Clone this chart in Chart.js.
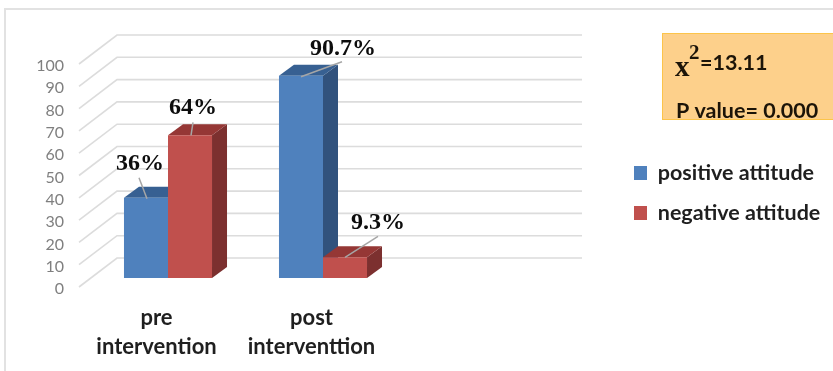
<!DOCTYPE html>
<html>
<head>
<meta charset="utf-8">
<title>Attitude before and after intervention</title>
<script src="https://cdn.jsdelivr.net/npm/chart.js@4/dist/chart.umd.min.js"></script>
<style>
  html, body { margin: 0; padding: 0; background: #fff; }
  canvas { display: block; }
</style>
</head>
<body>
<canvas id="attitudeChart" width="833" height="371"></canvas>
<script>
const categories = [['pre', 'intervention'], ['post', 'interventtion'], ''];
const positiveAttitude = [36, 90.7, null];
const negativeAttitude = [64, 9.3, null];
const seriesNames = ['positive attitude', 'negative attitude'];
const yTicksMax = 100;
const yTicksStep = 10;
const chiSquareText = '=13.11';
const pValueText = 'P value= 0.000';

const sans = 'Lato, "Open Sans", sans-serif';
const serif = '"Liberation Serif", serif';

// depth of the 3d box: the walls run back by wall, the bars sit inside it
const wall = { dx: 38, dy: -29 };
const barShift = { dx: 11.5, dy: -9 };
const barDepth = { dx: 15, dy: -11 };

const faces = [
  { front: '#4f81bd', top: '#376092', side: '#31527d' },
  { front: '#c0504d', top: '#953735', side: '#7c302f' }
];

// leader line and text position for each value label, relative to the bar top
const labelSpots = [
  [{ tx: -6, ty: -34, x1: -7, y1: -20, x2: 1, y2: 1 }, { tx: 42, ty: -27, x1: 41, y1: -14, x2: 0, y2: 1 }],
  [{ tx: 3, ty: -27, x1: 3, y1: -13, x2: 1, y2: 0 }, { tx: 33, ty: -34, x1: 33, y1: -21, x2: 0, y2: 0 }]
];

function quad(ctx, pts, color) {
  ctx.fillStyle = color;
  ctx.beginPath();
  ctx.moveTo(pts[0][0], pts[0][1]);
  pts.slice(1).forEach(p => ctx.lineTo(p[0], p[1]));
  ctx.closePath();
  ctx.fill();
}

const frameAndBox = {
  id: 'frameAndBox',
  beforeDraw(chart) {
    const ctx = chart.ctx;
    ctx.save();
    ctx.fillStyle = '#fff';
    ctx.fillRect(0, 0, chart.width, chart.height);
    ctx.strokeStyle = '#e2e2e2';
    ctx.lineWidth = 2;
    ctx.strokeRect(5, 9, chart.width + 20, chart.height + 20);

    // statistics box
    ctx.fillStyle = '#fdd08b';
    ctx.strokeStyle = '#fcc44a';
    ctx.lineWidth = 1;
    ctx.fillRect(662, 33, 180, 86);
    ctx.strokeRect(662.5, 33.5, 180, 86);
    ctx.fillStyle = '#1c1408';
    ctx.textBaseline = 'alphabetic';
    ctx.textAlign = 'left';
    ctx.font = 'bold 29px ' + serif;
    ctx.fillText('x', 675, 76);
    ctx.font = 'bold 21px ' + serif;
    ctx.fillText('2', 689, 59);
    ctx.font = 'bold 21.5px ' + sans;
    ctx.fillText(chiSquareText, 700, 70);
    ctx.fillText(pValueText, 676, 118);
    ctx.restore();
  },
  afterLayout(chart) {
    // legend sits to the right of the plot, under the statistics box
    const legend = chart.legend;
    legend.left = 615.5;
    legend.right = 833;
    legend.top = 143.75;
    legend.bottom = 300;
  },
  beforeDatasetsDraw(chart) {
    const ctx = chart.ctx;
    const yScale = chart.scales.y;
    const area = chart.chartArea;
    ctx.save();

    // walls and floor lines
    ctx.strokeStyle = '#dcdcdc';
    ctx.lineWidth = 1.6;
    yScale.ticks.forEach(t => {
      const y = yScale.getPixelForValue(t.value);
      ctx.beginPath();
      ctx.moveTo(area.left, y);
      ctx.lineTo(area.left + wall.dx, y + wall.dy);
      ctx.lineTo(area.right + wall.dx, y + wall.dy);
      ctx.stroke();
    });

    // side and top faces first, the library paints the front faces over them
    ctx.translate(barShift.dx, barShift.dy);
    chart.data.datasets.forEach((ds, i) => {
      chart.getDatasetMeta(i).data.forEach((bar, j) => {
        if (ds.data[j] == null) return;
        const { x, y, base, width } = bar.getProps(['x', 'y', 'base', 'width'], true);
        const l = x - width / 2;
        const r = x + width / 2;
        const d = barDepth;
        quad(ctx, [[r, y], [r + d.dx, y + d.dy], [r + d.dx, base + d.dy], [r, base]], faces[i].side);
        quad(ctx, [[l, y], [l + d.dx, y + d.dy], [r + d.dx, y + d.dy], [r, y]], faces[i].top);
      });
    });
    ctx.restore();

    ctx.save();
    ctx.translate(barShift.dx, barShift.dy);
  },
  afterDatasetsDraw(chart) {
    const ctx = chart.ctx;
    ctx.restore();
    ctx.save();
    ctx.translate(barShift.dx, barShift.dy);
    chart.data.datasets.forEach((ds, i) => {
      chart.getDatasetMeta(i).data.forEach((bar, j) => {
        if (ds.data[j] == null) return;
        const { x, y } = bar.getProps(['x', 'y'], true);
        const s = labelSpots[i][j];
        ctx.strokeStyle = '#a6a6a6';
        ctx.lineWidth = 1.5;
        ctx.beginPath();
        ctx.moveTo(x + s.x1, y + s.y1);
        ctx.lineTo(x + s.x2, y + s.y2);
        ctx.stroke();
        ctx.fillStyle = '#0d0d0d';
        ctx.font = 'bold 24px ' + serif;
        ctx.textAlign = 'center';
        ctx.textBaseline = 'middle';
        ctx.fillText(ds.data[j] + '%', x + s.tx, y + s.ty);
      });
    });
    ctx.restore();
  }
};

new Chart(document.getElementById('attitudeChart'), {
  type: 'bar',
  data: {
    labels: categories,
    datasets: [
      { label: seriesNames[0], data: positiveAttitude, backgroundColor: faces[0].front, borderWidth: 0 },
      { label: seriesNames[1], data: negativeAttitude, backgroundColor: faces[1].front, borderWidth: 0 }
    ]
  },
  options: {
    responsive: false,
    animation: false,
    barPercentage: 1,
    categoryPercentage: 0.568,
    layout: { padding: { top: 64, right: 289, left: 0, bottom: 0 } },
    plugins: {
      tooltip: { enabled: false },
      legend: {
        position: 'chartArea',
        align: 'start',
        onClick: null,
        labels: {
          boxWidth: 13,
          boxHeight: 14,
          padding: 18.5,
          color: '#1f1f1f',
          font: { family: sans, size: 21.5, weight: 'bold' }
        }
      }
    },
    scales: {
      x: {
        grid: { display: false, drawTicks: false },
        border: { display: false },
        afterFit(scale) { scale.height = 84; },
        ticks: {
          padding: 16,
          maxRotation: 0,
          autoSkip: false,
          color: '#1f1f1f',
          font: { family: sans, size: 22, weight: 'bold', lineHeight: 1.32 }
        }
      },
      y: {
        min: 0,
        max: yTicksMax,
        grid: { display: false, drawTicks: false },
        border: { display: false },
        afterFit(scale) { scale.width = 79; },
        ticks: {
          stepSize: yTicksStep,
          padding: 15,
          color: '#7f7f7f',
          // the blank first line nudges the numbers down onto the wall corners
          callback: v => ['', String(v)],
          font: { family: sans, size: 16, lineHeight: 0.25 }
        }
      }
    }
  },
  plugins: [frameAndBox]
});
</script>
</body>
</html>
